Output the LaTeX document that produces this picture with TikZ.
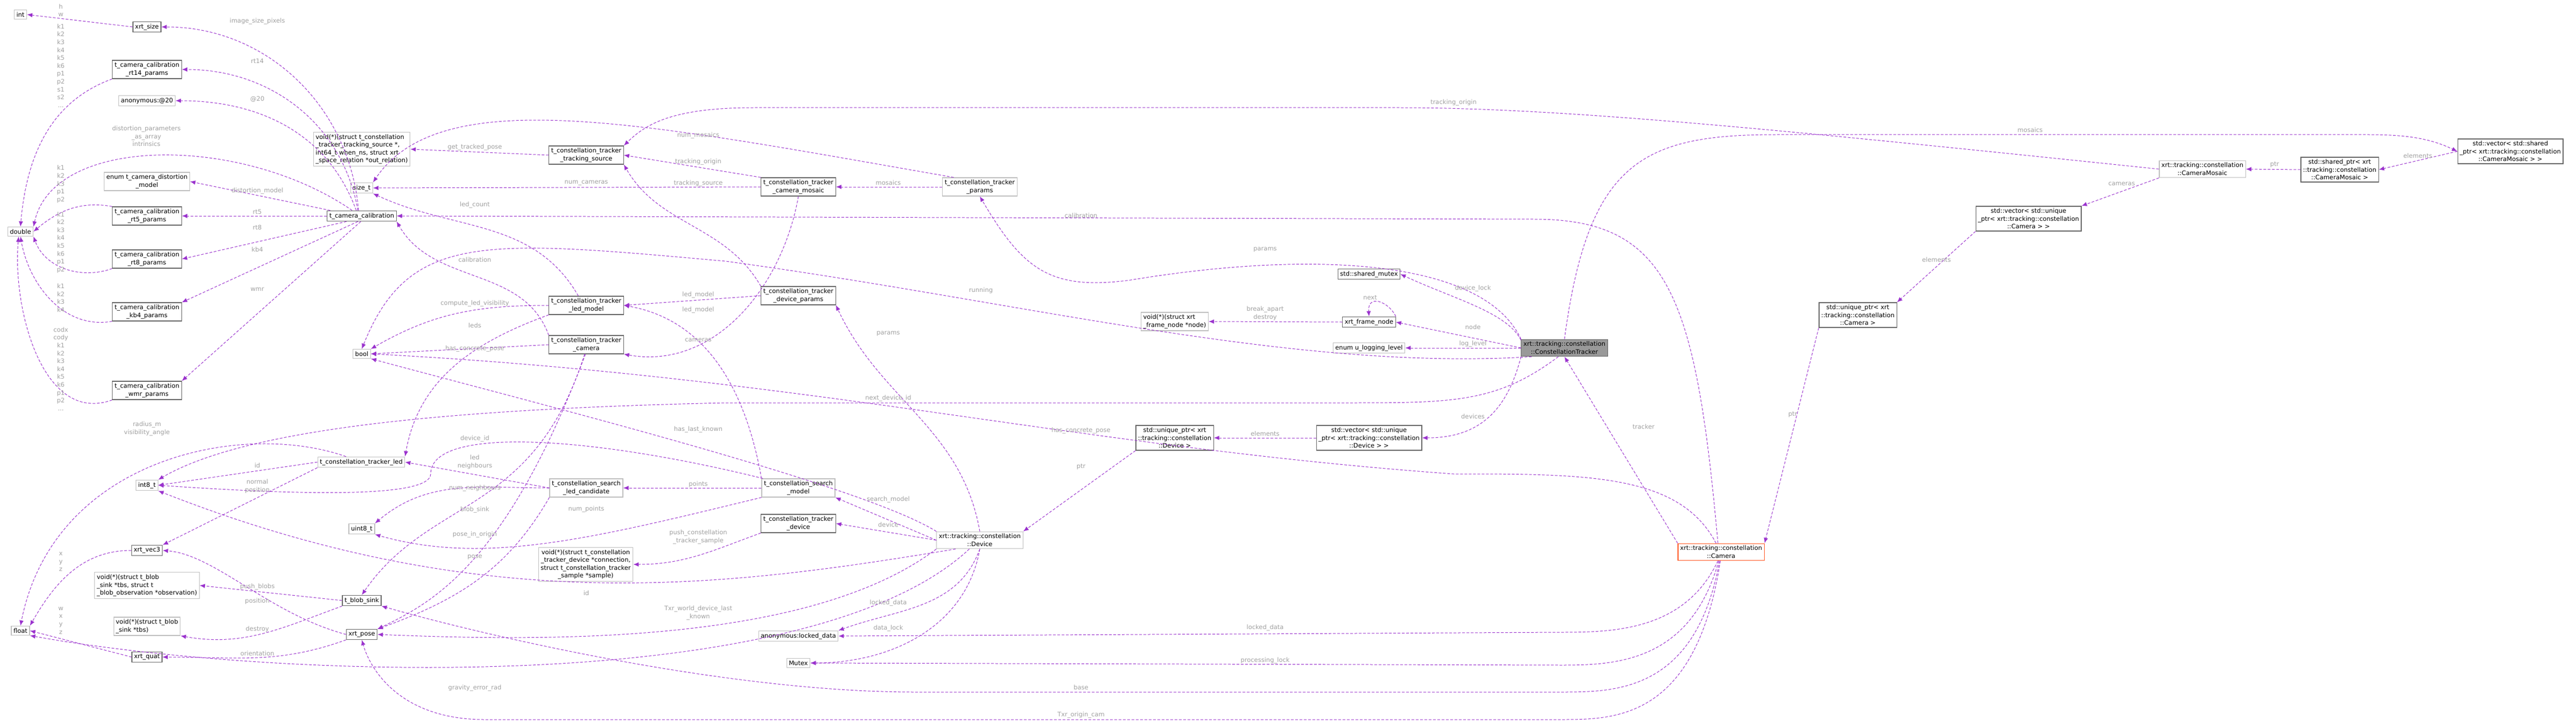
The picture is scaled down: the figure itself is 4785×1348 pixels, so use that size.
\documentclass[tikz,border=0pt]{standalone}
\usepackage{fontspec}
\newfontfamily\dejavu{DejaVu Sans}
\usetikzlibrary{arrows.meta}
\definecolor{edgepurple}{HTML}{9A32CD}
\definecolor{lblgrey}{HTML}{A0A0A0}
\definecolor{darkline}{HTML}{666666}
\definecolor{lightline}{HTML}{BFBFBF}
\definecolor{trackfill}{HTML}{999999}
\definecolor{camline}{HTML}{FF5722}
\newcommand\dxfont{\dejavu\fontsize{11.5}{14.6}\selectfont\lineskiplimit=-20pt\lineskip=0pt}
\tikzset{
  cls/.style = {draw=darkline, line width=1.2pt, fill=white, inner sep=4pt,
                align=center, font=\dxfont},
  ext/.style = {cls, draw=lightline},
  fn/.style = {ext, align=left},
  rel/.style = {draw=edgepurple, line width=1pt, dash pattern=on 5pt off 3pt,
                -{Latex[length=10pt,width=8pt]}},
  lbl/.style = {text=lblgrey, align=center, inner sep=0pt, font=\dxfont}
}
\begin{document}
\begin{tikzpicture}[x=1pt,y=1pt]
\useasboundingbox (0,0) rectangle (4785,-1348);
% left column
\node[ext] (int) at (38,-27) {int};
\node[cls] (xrtsize) at (273,-50) {xrt\_size};
\node[cls] (rtfourteen) at (273,-129) {t\_camera\_calibration\\\_rt14\_params};
\node[ext] (anon) at (273,-187) {anonymous:@20};
\node[ext] (distmodel) at (273,-337) {enum t\_camera\_distortion\\\_model};
\node[cls] (rtfive) at (273,-401) {t\_camera\_calibration\\\_rt5\_params};
\node[ext] (double) at (38,-430) {double};
\node[cls] (rteight) at (273,-481) {t\_camera\_calibration\\\_rt8\_params};
\node[cls] (kbfour) at (273,-579) {t\_camera\_calibration\\\_kb4\_params};
\node[cls] (wmr) at (273,-725) {t\_camera\_calibration\\\_wmr\_params};
\node[ext] (inteight) at (273,-901) {int8\_t};
\node[cls] (vecthree) at (273,-1022) {xrt\_vec3};
\node[fn] (pushfn) at (273,-1087) {void(*)(struct t\_blob\\\_sink *tbs, struct t\\\_blob\_observation *observation)};
\node[fn] (destroyfn) at (273,-1163) {void(*)(struct t\_blob\\\_sink *tbs)};
\node[ext] (float) at (38,-1171) {float};
\node[cls] (quat) at (273,-1220) {xrt\_quat};
% second column
\node[fn] (trackpose) at (672,-277) {void(*)(struct t\_constellation\\\_tracker\_tracking\_source *,\\ int64\_t when\_ns, struct xrt\\\_space\_relation *out\_relation)};
\node[ext] (sizet) at (672,-349) {size\_t};
\node[cls] (calib) at (672,-401) {t\_camera\_calibration};
\node[ext] (bool) at (672,-657) {bool};
\node[ext] (led) at (671,-858) {t\_constellation\_tracker\_led};
\node[ext] (uinteight) at (672,-982) {uint8\_t};
\node[cls] (blobsink) at (672,-1115) {t\_blob\_sink};
\node[cls] (pose) at (672,-1178) {xrt\_pose};
% third column
\node[cls] (tsource) at (1089,-288) {t\_constellation\_tracker\\\_tracking\_source};
\node[cls] (ledmodel) at (1089,-567) {t\_constellation\_tracker\\\_led\_model};
\node[cls] (tcamera) at (1089,-640) {t\_constellation\_tracker\\\_camera};
\node[ext] (candidate) at (1089,-906) {t\_constellation\_search\\\_led\_candidate};
\node[ext] (samplefn) at (1088,-1048) {void(*)(struct t\_constellation\\\_tracker\_device *connection,\\ struct t\_constellation\_tracker\\\_sample *sample)};
% fourth column
\node[cls] (mosaic) at (1483,-347) {t\_constellation\_tracker\\\_camera\_mosaic};
\node[cls] (devparams) at (1483,-549) {t\_constellation\_tracker\\\_device\_params};
\node[ext] (searchmodel) at (1483,-906) {t\_constellation\_search\\\_model};
\node[cls] (tdevice) at (1483,-972) {t\_constellation\_tracker\\\_device};
\node[ext] (locked) at (1483,-1181) {anonymous:locked\_data};
\node[ext] (mutex) at (1483,-1231) {Mutex};
\node[ext] (params) at (1820,-347) {t\_constellation\_tracker\\\_params};
\node[ext] (device) at (1820,-1003) {xrt::tracking::constellation\\::Device};
% right part
\node[fn] (nodefn) at (2182,-597) {void(*)(struct xrt\\\_frame\_node *node)};
\node[cls] (devptr) at (2182,-813) {std::unique\_ptr< xrt\\::tracking::constellation\\::Device >};
\node[cls] (shmutex) at (2543,-509) {std::shared\_mutex};
\node[cls] (framenode) at (2543,-598) {xrt\_frame\_node};
\node[ext] (loglevel) at (2543,-646) {enum u\_logging\_level};
\node[cls] (devvec) at (2543,-813) {std::vector< std::unique\\\_ptr< xrt::tracking::constellation\\::Device > >};
\node[cls, fill=trackfill] (tracker) at (2906,-646) {xrt::tracking::constellation\\::ConstellationTracker};
\node[cls, draw=camline] (camera) at (3197,-1025) {xrt::tracking::constellation\\::Camera};
\node[cls] (camptr) at (3451,-585) {std::unique\_ptr< xrt\\::tracking::constellation\\::Camera >};
\node[cls] (camvec) at (3768,-406) {std::vector< std::unique\\\_ptr< xrt::tracking::constellation\\::Camera > >};
\node[ext] (cmosaic) at (4091,-314) {xrt::tracking::constellation\\::CameraMosaic};
\node[cls] (mosaicptr) at (4346,-315) {std::shared\_ptr< xrt\\::tracking::constellation\\::CameraMosaic >};
\node[cls] (mosaicvec) at (4663,-281) {std::vector< std::shared\\\_ptr< xrt::tracking::constellation\\::CameraMosaic > >};
% connectors, left part
\draw[rel] (xrtsize.west) -- (int.east);
\draw[rel] (rtfourteen.south west) to[out=200,in=85] (double.north);
\draw[rel] (calib.120) to[out=95,in=0] (xrtsize.east);
\draw[rel] (calib.125) to[out=100,in=0] (rtfourteen.east);
\draw[rel] (calib.135) to[out=110,in=0] (anon.east);
\draw[rel] (calib.150) .. controls (450,-250) and (100,-250) .. (double.north east);
\draw[rel] (calib.170) -- (distmodel.east);
\draw[rel] (calib.west) -- (rtfive.east);
\draw[rel] (rtfive.north west) to[out=170,in=40] (double.east);
\draw[rel] (calib.200) -- (rteight.east);
\draw[rel] (rteight.south west) to[out=200,in=-70] (double.south east);
\draw[rel] (calib.235) -- (kbfour.north east);
\draw[rel] (kbfour.south west) to[out=190,in=-80] (double.south);
\draw[rel] (calib.260) -- (wmr.north east);
\draw[rel] (wmr.south west) to[out=200,in=-95] (double.250);
\draw[rel] (tsource.west) -- (trackpose.east);
\draw[rel] (mosaic.west) -- (sizet.east);
\draw[rel] (params.160) .. controls (1200,-230) and (820,-150) .. (sizet.north east);
\draw[rel] (ledmodel.130) to[out=120,in=-25] (sizet.south east);
\draw[rel] (tcamera.north west) to[out=110,in=-60] (calib.south east);
\draw[rel] (ledmodel.west) to[out=180,in=30] (bool.north east);
\draw[rel] (ledmodel.south west) to[out=200,in=80] (led.north east);
\draw[rel] (tcamera.west) -- (bool.east);
\draw[rel] (tcamera.260) .. controls (990,-960) and (800,-920) .. (blobsink.north);
\draw[rel] (tcamera.265) .. controls (940,-1050) and (800,-1120) .. (pose.north east);
\draw[rel] (led.west) -- (inteight.east);
\draw[rel] (led.south west) -- (vecthree.north east);
\draw[rel] (led.160) .. controls (450,-780) and (100,-850) .. (float.north);
\draw[rel] (searchmodel.165) .. controls (1100,-810) and (800,-790) .. (800,-880) .. controls (800,-930) and (500,-915) .. (inteight.east);
\draw[rel] (candidate.west) -- (led.east);
\draw[rel] (candidate.west) to[out=180,in=40] (uinteight.north east);
\draw[rel] (candidate.south west) to[out=-120,in=20] (pose.north east);
\draw[rel] (searchmodel.west) -- (candidate.east);
\draw[rel] (searchmodel.south west) .. controls (1100,-1000) and (900,-1050) .. (uinteight.south east);
\draw[rel] (searchmodel.north west) to[out=100,in=-10] (ledmodel.east);
\draw[rel] (devparams.west) -- (ledmodel.east);
\draw[rel] (devparams.north west) to[out=120,in=-60] (tsource.south east);
\draw[rel] (mosaic.north west) -- (tsource.east);
\draw[rel] (mosaic.south) to[out=-100,in=-10] (tcamera.south east);
\draw[rel] (params.west) -- (mosaic.east);
% connectors, device
\draw[rel] (device.north) to[out=100,in=-65] (devparams.south east);
\draw[rel] (device.west) -- (searchmodel.south east);
\draw[rel] (device.west) -- (tdevice.east);
\draw[rel] (device.south) to[out=-110,in=20] (locked.north east);
\draw[rel] (device.south) to[out=-100,in=0] (mutex.east);
\draw[rel] (tdevice.south west) to[out=200,in=0] (samplefn.east);
\draw[rel] (device.north west) .. controls (1600,-900) and (1000,-750) .. (bool.south east);
\draw[rel] (device.200) .. controls (1348,-1090) and (900,-1150) .. (inteight.south east);
\draw[rel] (device.south west) .. controls (1500,-1200) and (1000,-1190) .. (pose.east);
\draw[rel] (device.220) .. controls (1500,-1300) and (500,-1260) .. (float.south east);
% connectors, tracker and camera
\draw[rel] (tracker.north) .. controls (2950,-300) and (3050,-250) .. (3300,-250) -- (4400,-250) .. controls (4480,-250) and (4520,-260) .. (mosaicvec.west);
\draw[rel] (cmosaic.west) .. controls (3300,-240) and (2900,-200) .. (2600,-200) -- (1400,-200) .. controls (1250,-200) and (1200,-230) .. (tsource.north east);
\draw[rel] (tracker.north west) .. controls (2750,-470) and (2400,-470) .. (2100,-520) .. controls (1950,-540) and (1900,-500) .. (params.south);
\draw[rel] (tracker.170) .. controls (2800,-580) and (2700,-555) .. (shmutex.east);
\draw[rel] (tracker.west) -- (framenode.east);
\draw[rel] (tracker.west) -- (loglevel.east);
\draw[rel] (tracker.195) .. controls (2400,-690) and (1900,-560) .. (1348,-485) .. controls (900,-445) and (760,-430) .. (bool.north);
\draw[rel] (tracker.south west) .. controls (2800,-760) and (2750,-813) .. (devvec.east);
\draw[rel] (tracker.235) .. controls (2780,-748) and (2700,-748) .. (2500,-748) -- (1348,-748) .. controls (800,-760) and (450,-800) .. (inteight.north east);
\draw[rel] (devvec.west) -- (devptr.east);
\draw[rel] (devptr.south west) -- (device.north east);
\draw[rel] (framenode.west) -- (nodefn.east);
\draw[rel] (framenode.north east) .. controls (2580,-560) and (2540,-545) .. (framenode.north);
\draw[rel] (camera.110) .. controls (3150,-550) and (3100,-407) .. (2850,-407) -- (calib.east);
\draw[rel] (camera.120) .. controls (3120,-880) and (2950,-880) .. (2700,-880) .. controls (2000,-830) and (1500,-700) .. (bool.east);
\draw[rel] (camera.north west) -- (tracker.south);
\draw[rel] (camptr.south west) -- (camera.north east);
\draw[rel] (camera.250) .. controls (3130,-1170) and (3000,-1174) .. (2900,-1174) -- (locked.east);
\draw[rel] (camera.255) .. controls (3140,-1230) and (3000,-1235) .. (2900,-1235) -- (mutex.east);
\draw[rel] (camera.260) .. controls (3150,-1285) and (3000,-1285) .. (2900,-1285) -- (1700,-1285) .. controls (1348,-1285) and (900,-1180) .. (blobsink.south east);
\draw[rel] (camera.265) .. controls (3150,-1336) and (3000,-1336) .. (2900,-1336) -- (900,-1336) .. controls (750,-1336) and (690,-1250) .. (pose.south);
\draw[rel] (camvec.south west) -- (camptr.north east);
\draw[rel] (cmosaic.south west) -- (camvec.north east);
\draw[rel] (mosaicptr.west) -- (cmosaic.east);
\draw[rel] (mosaicvec.west) -- (mosaicptr.east);
% small structs
\draw[rel] (pose.west) .. controls (500,-1140) and (400,-1030) .. (vecthree.east);
\draw[rel] (pose.south west) to[out=200,in=0] (quat.east);
\draw[rel] (blobsink.west) -- (pushfn.east);
\draw[rel] (blobsink.south west) to[out=200,in=-10] (destroyfn.south east);
\draw[rel] (vecthree.west) to[out=180,in=60] (float.north east);
\draw[rel] (quat.west) -- (float.east);
% connector labels
\foreach \x/\y/\t [count=\i] in {
  113/-19/{h\\w}, 113/-122/{k1\\k2\\k3\\k4\\k5\\k6\\p1\\p2\\s1\\s2\\...},
  478/-39/{image\_size\_pixels}, 478/-113/{rt14}, 478/-184/{@20},
  272/-253/{distortion\_parameters\\\_as\_array\\intrinsics},
  113/-342/{k1\\k2\\k3\\p1\\p2}, 478/-354/{distortion\_model}, 478/-393/{rt5},
  113/-450/{k1\\k2\\k3\\k4\\k5\\k6\\p1\\p2}, 478/-422/{rt8}, 478/-463/{kb4},
  113/-553/{k1\\k2\\k3\\k4}, 478/-537/{wmr},
  113/-685/{codx\\cody\\k1\\k2\\k3\\k4\\k5\\k6\\p1\\p2\\...},
  882/-273/{get\_tracked\_pose}, 1089/-340/{num\_cameras}, 882/-380/{led\_count},
  882/-482/{calibration}, 882/-563/{compute\_led\_visibility}, 882/-604/{leds},
  882/-647/{has\_concrete\_pose}, 273/-796/{radius\_m\\visibility\_angle},
  478/-864/{id}, 478/-903/{normal\\position}, 882/-814/{device\_id},
  882/-858/{led\\neighbours}, 882/-906/{num\_neighbours}, 882/-946/{blob\_sink},
  1089/-945/{num\_points}, 882/-992/{pose\_in\_origin}, 882/-1034/{pose},
  113/-1043/{x\\y\\z}, 478/-1089/{push\_blobs}, 478/-1116/{position},
  1089/-1101/{id}, 113/-1152/{w\\x\\y\\z}, 478/-1168/{destroy},
  478/-1213/{orientation}, 882/-1277/{gravity\_error\_rad},
  1297/-251/{num\_mosaics}, 1297/-300/{tracking\_origin}, 1297/-340/{tracking\_source},
  1650/-339/{mosaics}, 2008/-400/{calibration}, 2350/-463/{params},
  1822/-539/{running}, 1297/-631/{cameras}, 1297/-547/{led\_model},
  1297/-575/{led\_model}, 1650/-619/{params}, 2350/-582/{break\_apart\\destroy},
  2545/-553/{next}, 1650/-739/{next\_device\_id}, 1297/-797/{has\_last\_known},
  2008/-799/{has\_concrete\_pose}, 2350/-805/{elements}, 2008/-867/{ptr},
  1297/-899/{points}, 1650/-927/{search\_model}, 1650/-974/{device},
  1297/-997/{push\_constellation\\\_tracker\_sample},
  1297/-1138/{Txr\_world\_device\_last\\\_known}, 1650/-1119/{locked\_data},
  1650/-1166/{data\_lock}, 2350/-1165/{locked\_data}, 2350/-1226/{processing\_lock},
  2008/-1276/{base}, 2008/-1327/{Txr\_origin\_cam}, 2736/-535/{device\_lock},
  2736/-607/{node}, 2736/-638/{log\_level}, 2736/-773/{devices},
  3053/-792/{tracker}, 3330/-770/{ptr}, 3597/-482/{elements},
  3941/-341/{cameras}, 3771/-241/{mosaics}, 2700/-190/{tracking\_origin},
  4225/-306/{ptr}, 4491/-289/{elements}}
  \node[lbl] (lab\i) at (\x,\y) {\t};
\end{tikzpicture}
\end{document}
